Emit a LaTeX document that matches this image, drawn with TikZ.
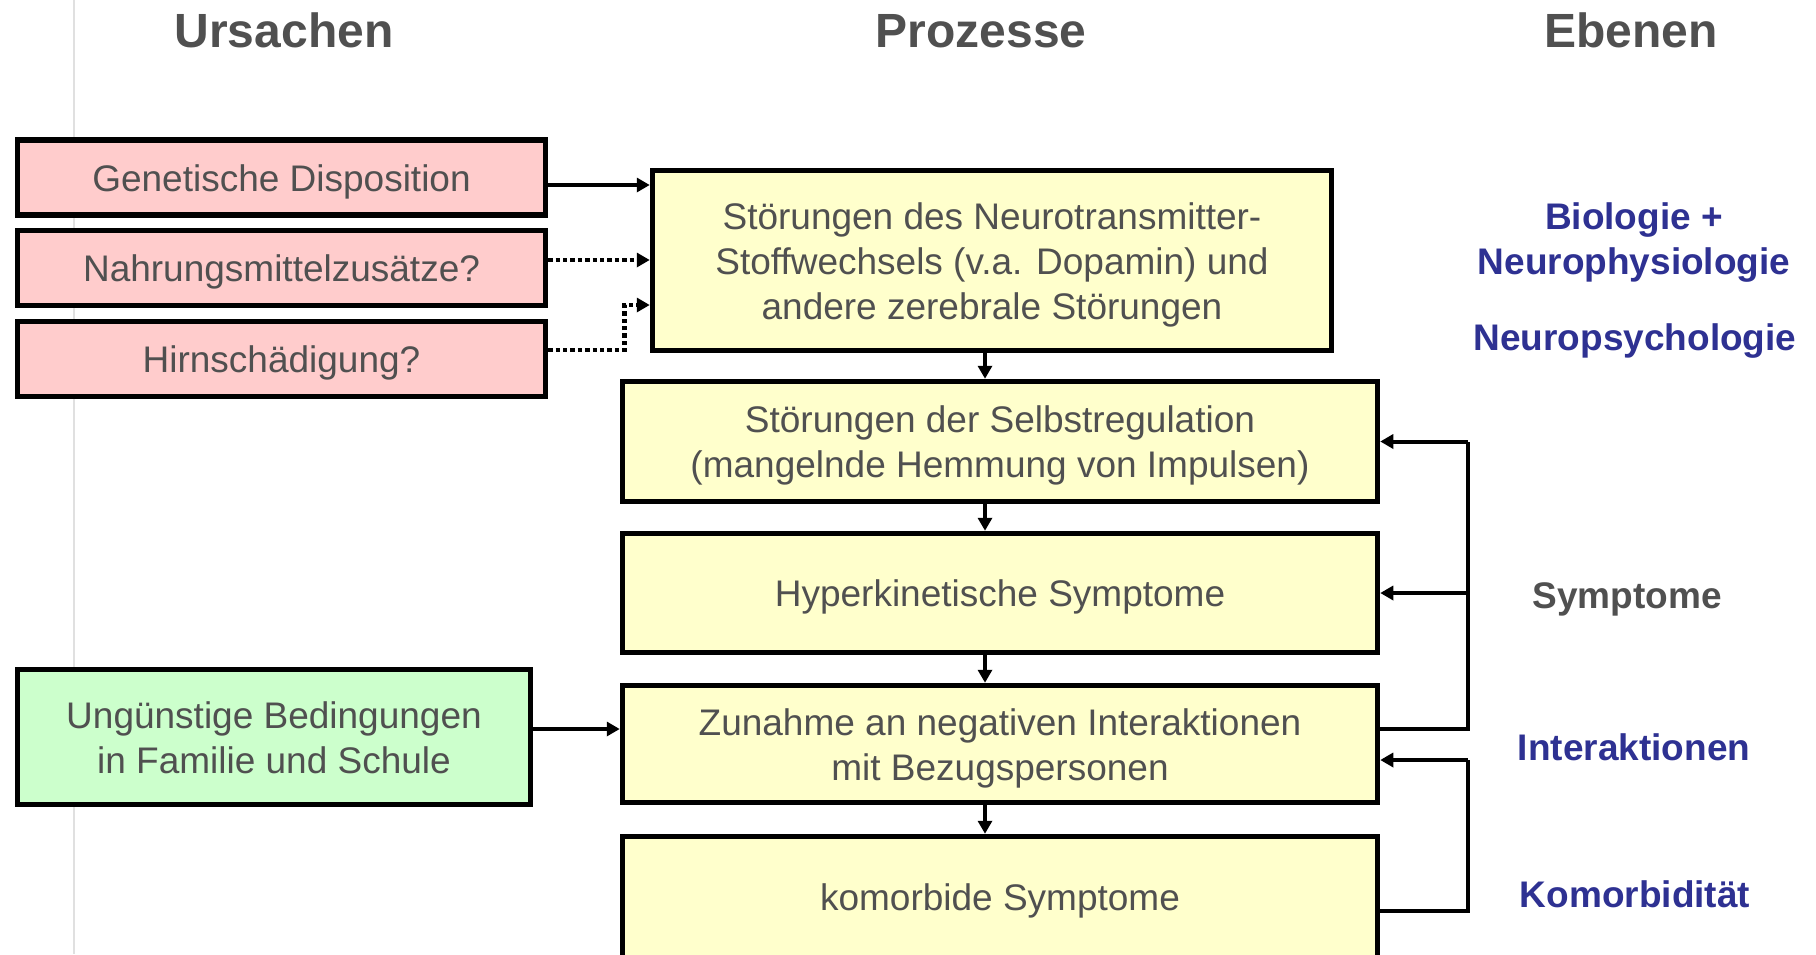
\documentclass[tikz,border=0pt]{standalone}
\usepackage{fontspec}
\setmainfont{Liberation Sans}
\usetikzlibrary{arrows.meta}
\definecolor{pinkf}{HTML}{FFCCCC}
\definecolor{yellowf}{HTML}{FFFFCC}
\definecolor{greenf}{HTML}{CCFFCC}
\definecolor{txtgray}{HTML}{505050}
\definecolor{lblblue}{HTML}{2E3192}
\definecolor{rulegray}{HTML}{E0E0E0}
\newcommand\firstln[1]{\rule{0pt}{0.74em}\smash{#1}}
\newcommand\nextln[1]{\smash{#1}}
\begin{document}
\begin{tikzpicture}[x=0.5pt,y=-0.5pt,
  box/.style={draw=black, line width=2.75pt, inner sep=0pt, align=center, text=txtgray,
    font=\fontsize{18.5pt}{22.5pt}\selectfont},
  pinkbox/.style={box, fill=pinkf, minimum width=264pt, minimum height=37.5pt},
  procbox/.style={box, fill=yellowf, minimum width=377.5pt},
  head/.style={font=\fontsize{24pt}{28pt}\selectfont\bfseries, text=txtgray, inner sep=0pt, anchor=base},
  lbl/.style={font=\fontsize{18.5pt}{22.5pt}\selectfont\bfseries, text=lblblue, inner sep=0pt, align=center},
  arr/.style={line width=2pt, -{Triangle[length=6.5pt,width=7pt]}},
  dotarr/.style={line width=2.4pt, dash pattern=on 2.2pt off 1.5pt, -{Triangle[length=6.5pt,width=7pt]}},
  fb/.style={line width=2pt}]
\clip (0,0) rectangle (1816,954);
\fill[white] (0,0) rectangle (1816,954);
\draw[rulegray, line width=1pt] (74,0) -- (74,954);

% headers
\node[head] (h1) at (284,47) {Ursachen};
\node[head] (h2) at (981,47) {Prozesse};
\node[head] (h3) at (1631,47) {Ebenen};

% causes
\node[pinkbox] (g1) at (281.5,177.5) {\firstln{Genetische Disposition}};
\node[pinkbox] (g2) at (281.5,268) {\firstln{Nahrungsmittelzusätze?}};
\node[pinkbox] (g3) at (281.5,359) {\firstln{Hirnschädigung?}};
\node[box, fill=greenf, minimum width=256.5pt, minimum height=67.5pt] (gr) at (274,737)
  {\firstln{Ungünstige Bedingungen}\\\nextln{in Familie und Schule}};

% processes
\node[box, fill=yellowf, minimum width=339.5pt, minimum height=90pt] (A) at (992,260.5)
  {\firstln{Störungen des Neurotransmitter-}\\\nextln{Stoffwechsels (v.a. Dopamin) und}\\\nextln{andere zerebrale Störungen}};
\node[procbox, minimum height=60pt] (B) at (1000,441.5)
  {\firstln{Störungen der Selbstregulation}\\\nextln{(mangelnde Hemmung von Impulsen)}};
\node[procbox, minimum height=59.5pt] (C) at (1000,593) {\firstln{Hyperkinetische Symptome}};
\node[procbox, minimum height=58.5pt] (D) at (1000,744)
  {\firstln{Zunahme an negativen Interaktionen}\\\nextln{mit Bezugspersonen}};
\node[procbox, minimum height=60.5pt] (E) at (1000,897) {\firstln{komorbide Symptome}};

% levels
\node[lbl] (l1) at (1634,243) {Biologie +\\Neurophysiologie};
\node[lbl, anchor=base] (l2) at (1635,350) {Neuropsychologie};
\node[lbl, anchor=base, text=txtgray] (l3) at (1627,608) {Symptome};
\node[lbl, anchor=base] (l4) at (1634,760) {Interaktionen};
\node[lbl, anchor=base] (l5) at (1635,907) {Komorbidität};

% cause arrows
\coordinate (p1) at ([yshift=-3.75pt]g1.east);
\draw[arr] (p1) -- (p1 -| A.west);
\coordinate (p2) at ([yshift=4pt]g2.east);
\draw[dotarr] (p2) -- (p2 -| A.west);
\coordinate (p3) at ([yshift=4.5pt]g3.east);
\coordinate (q3) at ([yshift=-22.25pt]A.west);
\draw[dotarr] (p3) -- ++(76.5,0) |- (q3);
\coordinate (pg) at ([yshift=4pt]gr.east);
\draw[arr] (pg) -- (pg -| D.west);

% process chain
\coordinate (ax) at (985,0);
\draw[arr] (A.south -| ax) -- (B.north -| ax);
\draw[arr] (B.south -| ax) -- (C.north -| ax);
\draw[arr] (C.south -| ax) -- (D.north -| ax);
\draw[arr] (D.south -| ax) -- (E.north -| ax);

% feedback loops
\coordinate (fx) at (1468,0);
\coordinate (d1) at ([yshift=7.5pt]D.east);
\draw[fb] (d1) -- (d1 -| fx) -- (fx |- B.east);
\draw[arr] (fx |- B.east) -- (B.east);
\draw[arr] (fx |- C.east) -- (C.east);
\coordinate (e1) at ([yshift=-7pt]E.east);
\coordinate (d2) at ([yshift=-8pt]D.east);
\draw[fb] (e1) -- (e1 -| fx) -- (fx |- d2);
\draw[arr] (fx |- d2) -- (d2);
\end{tikzpicture}
\end{document}
